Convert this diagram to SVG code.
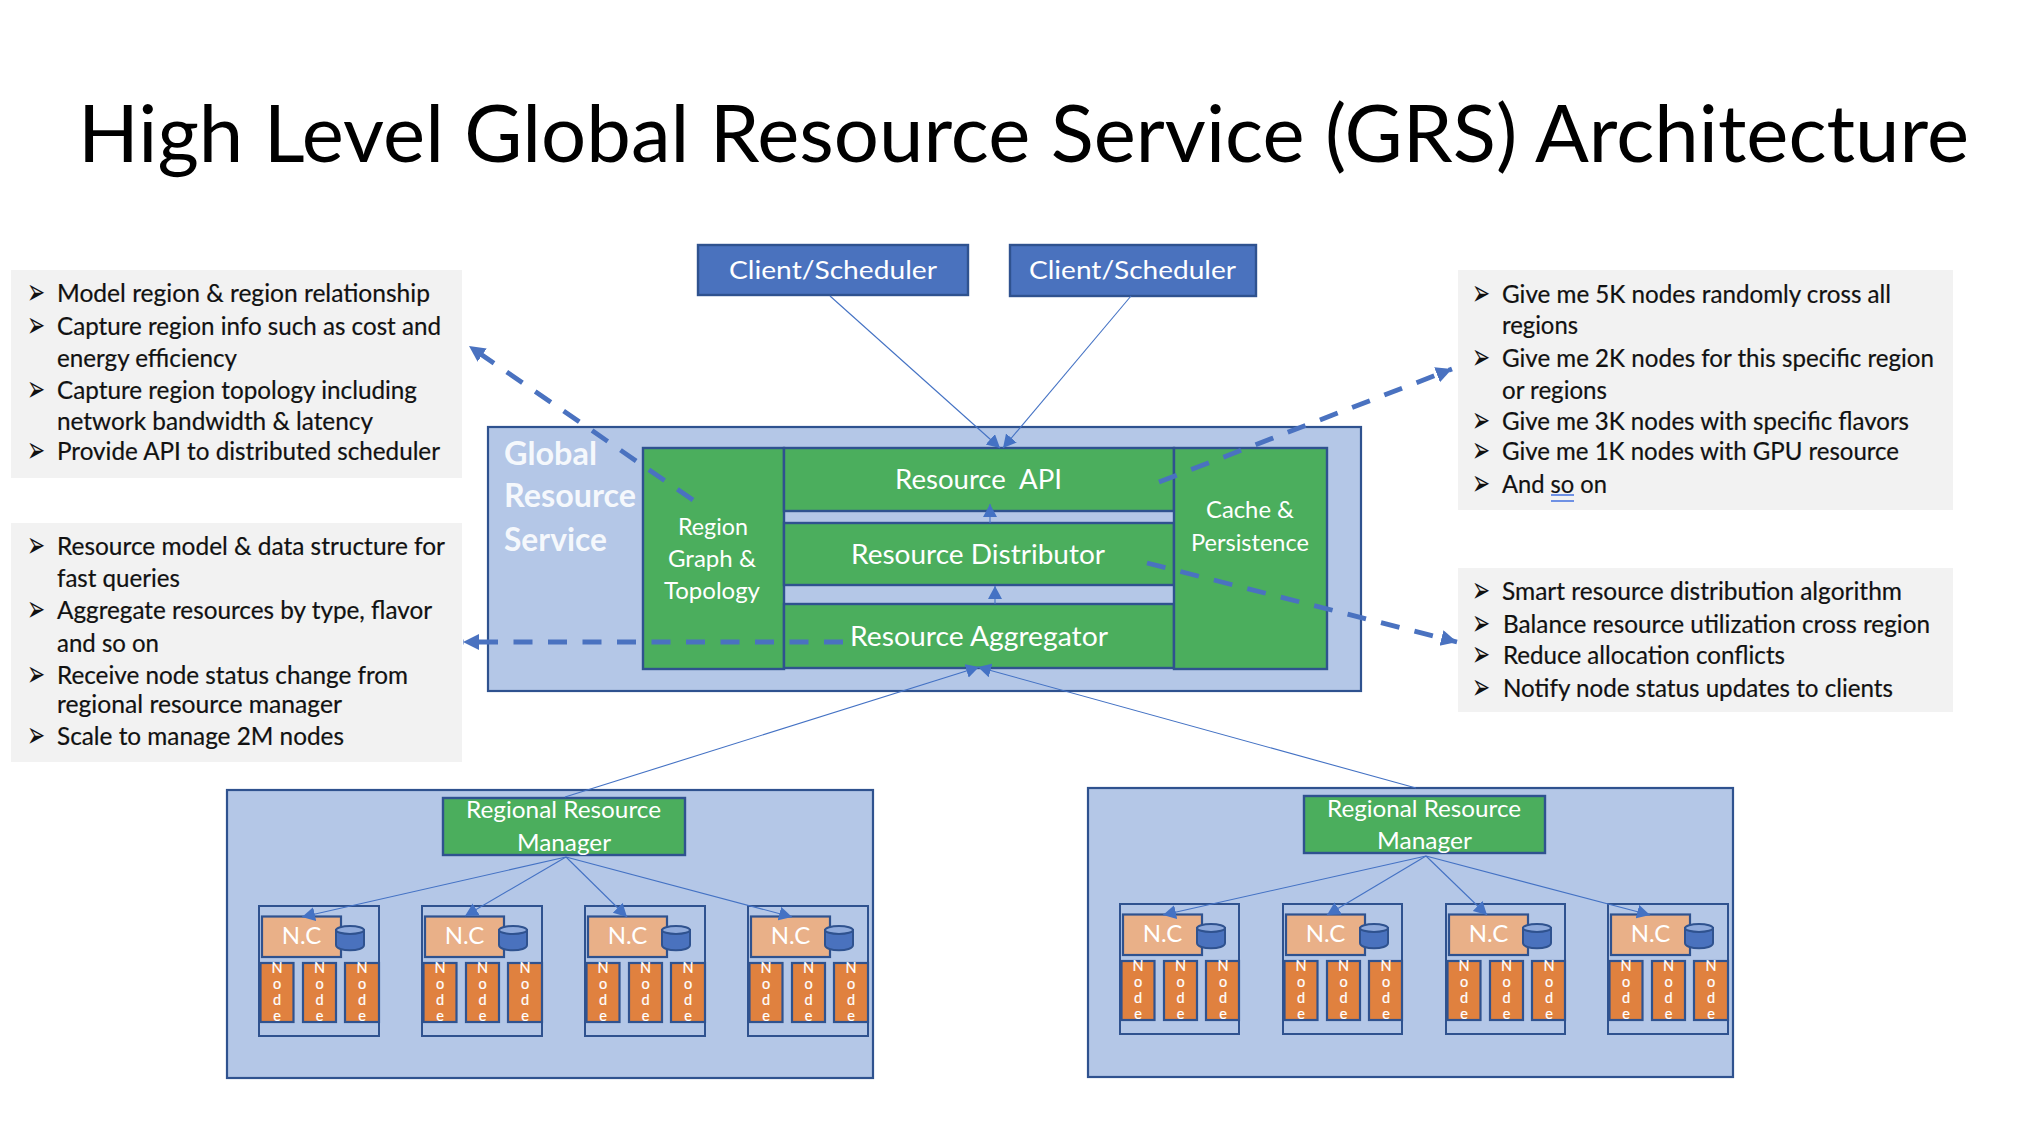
<svg xmlns="http://www.w3.org/2000/svg" width="2040" height="1140" viewBox="0 0 2040 1140">
<style>
text{font-family:Lato,"Liberation Sans",sans-serif;white-space:pre}
.title{font-size:79px;font-weight:400;fill:#000}
.b{font-size:24.5px;fill:#111;stroke:#111;stroke-width:.2;transform:translateY(1px)}
.m{font-family:"DejaVu Sans",sans-serif;font-size:36px;fill:#111;transform-box:fill-box;transform-origin:0 0;transform:scaleX(.6)}
.w{font-size:24px;fill:#fff}
.l{font-size:26px;transform:translateY(1px)}
.c{text-anchor:middle}
.g{font-size:33px;font-weight:700;fill:#fff;fill-opacity:.88}
.n{font-size:14.5px;fill:#fff;text-anchor:middle;stroke:#fff;stroke-width:.2}
.nc{font-size:24px;fill:#fff;text-anchor:middle}
.note{fill:#f2f2f2}
.lb{fill:#b4c7e7;stroke:#2f528f;stroke-width:2.2}
.gr{fill:#4bae5d;stroke:#2f528f;stroke-width:2.4}
.bl{fill:#4a72be;stroke:#2f528f;stroke-width:2.4}
.or{fill:#e0813f;stroke:#2f528f;stroke-width:2.2}
.pe{fill:#e9b088;stroke:#2f528f;stroke-width:2.2}
.fr{fill:none;stroke:#2f528f;stroke-width:2}
.cy{fill:#4a72be;stroke:#2f528f;stroke-width:2}
.cyt{fill:#8faadc;stroke:#2f528f;stroke-width:2}
.thin{fill:none;stroke:#4472c4;stroke-width:1.1;marker-end:url(#tri)}
.dash{fill:none;stroke:#4a72c0;stroke-width:4.8;stroke-dasharray:19 15.5;marker-end:url(#big)}
</style>
<defs>
<marker id="tri" markerUnits="userSpaceOnUse" markerWidth="15" markerHeight="15" refX="13" refY="7" orient="auto"><path d="M0 0L13 7L0 14Z" fill="#4472c4"/></marker>
<marker id="big" markerUnits="userSpaceOnUse" markerWidth="18" markerHeight="18" refX="16" refY="8" orient="auto"><path d="M0 0L16 8L0 16Z" fill="#4a72c0"/></marker>
</defs>
<rect width="2040" height="1140" fill="#fff"/>
<text id="title" class="title" x="78" y="162" textLength="1891" lengthAdjust="spacingAndGlyphs">High Level Global Resource Service (GRS) Architecture</text>

<g id="note-region">
<rect class="note" x="11" y="270" width="451" height="208"/>
<text class="m" x="27" y="304">➢</text><text class="b" x="57" y="301" textLength="373" lengthAdjust="spacingAndGlyphs">Model region &amp; region relationship</text>
<text class="m" x="27" y="337">➢</text><text class="b" x="57" y="334" textLength="384" lengthAdjust="spacingAndGlyphs">Capture region info such as cost and</text>
<text class="b" x="57" y="366" textLength="180" lengthAdjust="spacingAndGlyphs">energy efficiency</text>
<text class="m" x="27" y="401">➢</text><text class="b" x="57" y="398" textLength="360" lengthAdjust="spacingAndGlyphs">Capture region topology including</text>
<text class="b" x="57" y="429" textLength="316" lengthAdjust="spacingAndGlyphs">network bandwidth &amp; latency</text>
<text class="m" x="27" y="462">➢</text><text class="b" x="57" y="459" textLength="383" lengthAdjust="spacingAndGlyphs">Provide API to distributed scheduler</text>
</g>
<g id="note-aggregator">
<rect class="note" x="11" y="523" width="451" height="239"/>
<text class="m" x="27" y="557">➢</text><text class="b" x="57" y="554" textLength="388" lengthAdjust="spacingAndGlyphs">Resource model &amp; data structure for</text>
<text class="b" x="57" y="586" textLength="123" lengthAdjust="spacingAndGlyphs">fast queries</text>
<text class="m" x="27" y="621">➢</text><text class="b" x="57" y="618" textLength="375" lengthAdjust="spacingAndGlyphs">Aggregate resources by type, flavor</text>
<text class="b" x="57" y="651" textLength="102" lengthAdjust="spacingAndGlyphs">and so on</text>
<text class="m" x="27" y="686">➢</text><text class="b" x="57" y="683" textLength="351" lengthAdjust="spacingAndGlyphs">Receive node status change from</text>
<text class="b" x="57" y="712" textLength="285" lengthAdjust="spacingAndGlyphs">regional resource manager</text>
<text class="m" x="27" y="747">➢</text><text class="b" x="57" y="744" textLength="287" lengthAdjust="spacingAndGlyphs">Scale to manage 2M nodes</text>
</g>
<g id="note-api">
<rect class="note" x="1458" y="270" width="495" height="240"/>
<text class="m" x="1472" y="305">➢</text><text class="b" x="1502" y="302" textLength="389" lengthAdjust="spacingAndGlyphs">Give me 5K nodes randomly cross all</text>
<text class="b" x="1502" y="333" textLength="76" lengthAdjust="spacingAndGlyphs">regions</text>
<text class="m" x="1472" y="369">➢</text><text class="b" x="1502" y="366" textLength="432" lengthAdjust="spacingAndGlyphs">Give me 2K nodes for this specific region</text>
<text class="b" x="1502" y="398" textLength="105" lengthAdjust="spacingAndGlyphs">or regions</text>
<text class="m" x="1472" y="432">➢</text><text class="b" x="1502" y="429" textLength="407" lengthAdjust="spacingAndGlyphs">Give me 3K nodes with specific flavors</text>
<text class="m" x="1472" y="462">➢</text><text class="b" x="1502" y="459" textLength="397" lengthAdjust="spacingAndGlyphs">Give me 1K nodes with GPU resource</text>
<text class="m" x="1472" y="495">➢</text><text class="b" x="1502" y="492" textLength="105" lengthAdjust="spacingAndGlyphs">And so on</text>
<path d="M1551 495H1574M1551 501H1574" stroke="#4472e0" stroke-width="1.6" fill="none"/>
</g>
<g id="note-distributor">
<rect class="note" x="1458" y="568" width="495" height="144"/>
<text class="m" x="1472" y="602">➢</text><text class="b" x="1502" y="599" textLength="400" lengthAdjust="spacingAndGlyphs">Smart resource distribution algorithm</text>
<text class="m" x="1472" y="635">➢</text><text class="b" x="1503" y="632" textLength="427" lengthAdjust="spacingAndGlyphs">Balance resource utilization cross region</text>
<text class="m" x="1472" y="666">➢</text><text class="b" x="1503" y="663" textLength="282" lengthAdjust="spacingAndGlyphs">Reduce allocation conflicts</text>
<text class="m" x="1472" y="699">➢</text><text class="b" x="1503" y="696" textLength="390" lengthAdjust="spacingAndGlyphs">Notify node status updates to clients</text>
</g>

<g id="client-1"><rect class="bl" x="698" y="245" width="270" height="50"/><text class="w" style="font-size:25.5px" x="729" y="279" textLength="208" lengthAdjust="spacingAndGlyphs">Client/Scheduler</text></g>
<g id="client-2"><rect class="bl" x="1010" y="245" width="246" height="51"/><text class="w" style="font-size:25.5px" x="1029" y="279" textLength="207" lengthAdjust="spacingAndGlyphs">Client/Scheduler</text></g>

<g id="grs">
<rect class="lb" x="488" y="427" width="873" height="264"/>
<text class="g" x="504" y="464.5" textLength="93" lengthAdjust="spacingAndGlyphs">Global</text>
<text class="g" x="504" y="507" textLength="132" lengthAdjust="spacingAndGlyphs">Resource</text>
<text class="g" x="504" y="550.5" textLength="103" lengthAdjust="spacingAndGlyphs">Service</text>
</g>
<g id="region-graph">
<rect class="gr" x="643" y="448" width="141" height="221"/>
<text class="w c" x="713" y="535" textLength="70" lengthAdjust="spacingAndGlyphs">Region</text>
<text class="w c" x="712" y="567" textLength="88" lengthAdjust="spacingAndGlyphs">Graph &amp;</text>
<text class="w c" x="712" y="599" textLength="96" lengthAdjust="spacingAndGlyphs">Topology</text>
</g>
<g id="resource-api"><rect class="gr" x="784" y="448" width="390" height="63"/><text class="w l" x="895" y="488" textLength="167" lengthAdjust="spacingAndGlyphs">Resource  API</text></g>
<g id="resource-distributor"><rect class="gr" x="784" y="523" width="390" height="62"/><text class="w l" x="851" y="563" textLength="254" lengthAdjust="spacingAndGlyphs">Resource Distributor</text></g>
<g id="resource-aggregator"><rect class="gr" x="784" y="604" width="390" height="64"/><text class="w l" x="850" y="645" textLength="258" lengthAdjust="spacingAndGlyphs">Resource Aggregator</text></g>
<g id="cache">
<rect class="gr" x="1174" y="448" width="153" height="221"/>
<text class="w" x="1206" y="518" textLength="88" lengthAdjust="spacingAndGlyphs">Cache &amp;</text>
<text class="w" x="1191" y="551" textLength="118" lengthAdjust="spacingAndGlyphs">Persistence</text>
</g>

<g id="region-1">
<rect class="lb" x="227" y="790" width="646" height="288"/>
<rect class="gr" x="443" y="798" width="242" height="57"/>
<text class="w" x="466" y="818" textLength="195" lengthAdjust="spacingAndGlyphs">Regional Resource</text>
<text class="w" x="517" y="851" textLength="94" lengthAdjust="spacingAndGlyphs">Manager</text>
</g>
<g id="region-2">
<rect class="lb" x="1088" y="788" width="645" height="289"/>
<rect class="gr" x="1304" y="796" width="241" height="57"/>
<text class="w" x="1327" y="817" textLength="194" lengthAdjust="spacingAndGlyphs">Regional Resource</text>
<text class="w" x="1377" y="849" textLength="95" lengthAdjust="spacingAndGlyphs">Manager</text>
</g>

<g id="nc-1-1" transform="translate(259,906)"><rect class="fr" width="120" height="130"/><rect class="pe" x="3" y="10.5" width="79" height="40.5"/><text class="nc" x="42.5" y="38">N.C</text><path class="cy" d="M77 24V39C77 46 105 46 105 39V24Z"/><ellipse class="cyt" cx="91" cy="24" rx="14" ry="4"/><rect class="or" x="1.5" y="57" width="33" height="59"/><text class="n"><tspan x="18" y="67">N</tspan><tspan x="18" y="83">o</tspan><tspan x="18" y="99">d</tspan><tspan x="18" y="115">e</tspan></text><rect class="or" x="44" y="57" width="33" height="59"/><text class="n"><tspan x="60.5" y="67">N</tspan><tspan x="60.5" y="83">o</tspan><tspan x="60.5" y="99">d</tspan><tspan x="60.5" y="115">e</tspan></text><rect class="or" x="86" y="57" width="34" height="59"/><text class="n"><tspan x="103" y="67">N</tspan><tspan x="103" y="83">o</tspan><tspan x="103" y="99">d</tspan><tspan x="103" y="115">e</tspan></text></g>
<g id="nc-1-2" transform="translate(422,906)"><rect class="fr" width="120" height="130"/><rect class="pe" x="3" y="10.5" width="79" height="40.5"/><text class="nc" x="42.5" y="38">N.C</text><path class="cy" d="M77 24V39C77 46 105 46 105 39V24Z"/><ellipse class="cyt" cx="91" cy="24" rx="14" ry="4"/><rect class="or" x="1.5" y="57" width="33" height="59"/><text class="n"><tspan x="18" y="67">N</tspan><tspan x="18" y="83">o</tspan><tspan x="18" y="99">d</tspan><tspan x="18" y="115">e</tspan></text><rect class="or" x="44" y="57" width="33" height="59"/><text class="n"><tspan x="60.5" y="67">N</tspan><tspan x="60.5" y="83">o</tspan><tspan x="60.5" y="99">d</tspan><tspan x="60.5" y="115">e</tspan></text><rect class="or" x="86" y="57" width="34" height="59"/><text class="n"><tspan x="103" y="67">N</tspan><tspan x="103" y="83">o</tspan><tspan x="103" y="99">d</tspan><tspan x="103" y="115">e</tspan></text></g>
<g id="nc-1-3" transform="translate(585,906)"><rect class="fr" width="120" height="130"/><rect class="pe" x="3" y="10.5" width="79" height="40.5"/><text class="nc" x="42.5" y="38">N.C</text><path class="cy" d="M77 24V39C77 46 105 46 105 39V24Z"/><ellipse class="cyt" cx="91" cy="24" rx="14" ry="4"/><rect class="or" x="1.5" y="57" width="33" height="59"/><text class="n"><tspan x="18" y="67">N</tspan><tspan x="18" y="83">o</tspan><tspan x="18" y="99">d</tspan><tspan x="18" y="115">e</tspan></text><rect class="or" x="44" y="57" width="33" height="59"/><text class="n"><tspan x="60.5" y="67">N</tspan><tspan x="60.5" y="83">o</tspan><tspan x="60.5" y="99">d</tspan><tspan x="60.5" y="115">e</tspan></text><rect class="or" x="86" y="57" width="34" height="59"/><text class="n"><tspan x="103" y="67">N</tspan><tspan x="103" y="83">o</tspan><tspan x="103" y="99">d</tspan><tspan x="103" y="115">e</tspan></text></g>
<g id="nc-1-4" transform="translate(748,906)"><rect class="fr" width="120" height="130"/><rect class="pe" x="3" y="10.5" width="79" height="40.5"/><text class="nc" x="42.5" y="38">N.C</text><path class="cy" d="M77 24V39C77 46 105 46 105 39V24Z"/><ellipse class="cyt" cx="91" cy="24" rx="14" ry="4"/><rect class="or" x="1.5" y="57" width="33" height="59"/><text class="n"><tspan x="18" y="67">N</tspan><tspan x="18" y="83">o</tspan><tspan x="18" y="99">d</tspan><tspan x="18" y="115">e</tspan></text><rect class="or" x="44" y="57" width="33" height="59"/><text class="n"><tspan x="60.5" y="67">N</tspan><tspan x="60.5" y="83">o</tspan><tspan x="60.5" y="99">d</tspan><tspan x="60.5" y="115">e</tspan></text><rect class="or" x="86" y="57" width="34" height="59"/><text class="n"><tspan x="103" y="67">N</tspan><tspan x="103" y="83">o</tspan><tspan x="103" y="99">d</tspan><tspan x="103" y="115">e</tspan></text></g>
<g id="nc-2-1" transform="translate(1120,904)"><rect class="fr" width="119" height="130"/><rect class="pe" x="3" y="10.5" width="79" height="40.5"/><text class="nc" x="42.5" y="38">N.C</text><path class="cy" d="M77 24V39C77 46 105 46 105 39V24Z"/><ellipse class="cyt" cx="91" cy="24" rx="14" ry="4"/><rect class="or" x="1.5" y="57" width="33" height="59"/><text class="n"><tspan x="18" y="67">N</tspan><tspan x="18" y="83">o</tspan><tspan x="18" y="99">d</tspan><tspan x="18" y="115">e</tspan></text><rect class="or" x="44" y="57" width="33" height="59"/><text class="n"><tspan x="60.5" y="67">N</tspan><tspan x="60.5" y="83">o</tspan><tspan x="60.5" y="99">d</tspan><tspan x="60.5" y="115">e</tspan></text><rect class="or" x="86" y="57" width="33" height="59"/><text class="n"><tspan x="103" y="67">N</tspan><tspan x="103" y="83">o</tspan><tspan x="103" y="99">d</tspan><tspan x="103" y="115">e</tspan></text></g>
<g id="nc-2-2" transform="translate(1283,904)"><rect class="fr" width="119" height="130"/><rect class="pe" x="3" y="10.5" width="79" height="40.5"/><text class="nc" x="42.5" y="38">N.C</text><path class="cy" d="M77 24V39C77 46 105 46 105 39V24Z"/><ellipse class="cyt" cx="91" cy="24" rx="14" ry="4"/><rect class="or" x="1.5" y="57" width="33" height="59"/><text class="n"><tspan x="18" y="67">N</tspan><tspan x="18" y="83">o</tspan><tspan x="18" y="99">d</tspan><tspan x="18" y="115">e</tspan></text><rect class="or" x="44" y="57" width="33" height="59"/><text class="n"><tspan x="60.5" y="67">N</tspan><tspan x="60.5" y="83">o</tspan><tspan x="60.5" y="99">d</tspan><tspan x="60.5" y="115">e</tspan></text><rect class="or" x="86" y="57" width="33" height="59"/><text class="n"><tspan x="103" y="67">N</tspan><tspan x="103" y="83">o</tspan><tspan x="103" y="99">d</tspan><tspan x="103" y="115">e</tspan></text></g>
<g id="nc-2-3" transform="translate(1446,904)"><rect class="fr" width="119" height="130"/><rect class="pe" x="3" y="10.5" width="79" height="40.5"/><text class="nc" x="42.5" y="38">N.C</text><path class="cy" d="M77 24V39C77 46 105 46 105 39V24Z"/><ellipse class="cyt" cx="91" cy="24" rx="14" ry="4"/><rect class="or" x="1.5" y="57" width="33" height="59"/><text class="n"><tspan x="18" y="67">N</tspan><tspan x="18" y="83">o</tspan><tspan x="18" y="99">d</tspan><tspan x="18" y="115">e</tspan></text><rect class="or" x="44" y="57" width="33" height="59"/><text class="n"><tspan x="60.5" y="67">N</tspan><tspan x="60.5" y="83">o</tspan><tspan x="60.5" y="99">d</tspan><tspan x="60.5" y="115">e</tspan></text><rect class="or" x="86" y="57" width="33" height="59"/><text class="n"><tspan x="103" y="67">N</tspan><tspan x="103" y="83">o</tspan><tspan x="103" y="99">d</tspan><tspan x="103" y="115">e</tspan></text></g>
<g id="nc-2-4" transform="translate(1608,904)"><rect class="fr" width="120" height="130"/><rect class="pe" x="3" y="10.5" width="79" height="40.5"/><text class="nc" x="42.5" y="38">N.C</text><path class="cy" d="M77 24V39C77 46 105 46 105 39V24Z"/><ellipse class="cyt" cx="91" cy="24" rx="14" ry="4"/><rect class="or" x="1.5" y="57" width="33" height="59"/><text class="n"><tspan x="18" y="67">N</tspan><tspan x="18" y="83">o</tspan><tspan x="18" y="99">d</tspan><tspan x="18" y="115">e</tspan></text><rect class="or" x="44" y="57" width="33" height="59"/><text class="n"><tspan x="60.5" y="67">N</tspan><tspan x="60.5" y="83">o</tspan><tspan x="60.5" y="99">d</tspan><tspan x="60.5" y="115">e</tspan></text><rect class="or" x="86" y="57" width="34" height="59"/><text class="n"><tspan x="103" y="67">N</tspan><tspan x="103" y="83">o</tspan><tspan x="103" y="99">d</tspan><tspan x="103" y="115">e</tspan></text></g>

<g id="connectors">
<path class="thin" d="M830 296L1000 448"/>
<path class="thin" d="M1131 296L1003 448"/>
<path class="thin" d="M990 523V504"/>
<path class="thin" d="M995 604V586"/>
<path class="thin" d="M565 797L979 667"/>
<path class="thin" d="M1416 788L978 667"/>
<path class="thin" d="M566 857L302 917"/>
<path class="thin" d="M566 857L465 916"/>
<path class="thin" d="M566 857L627 917"/>
<path class="thin" d="M566 857L792 917"/>
<path class="thin" d="M1426 856L1163 915"/>
<path class="thin" d="M1426 856L1327 915"/>
<path class="thin" d="M1426 856L1487 915"/>
<path class="thin" d="M1426 856L1650 915"/>
<path class="dash" d="M693 500L469 346"/>
<path class="dash" d="M843 642H463"/>
<path class="dash" d="M1159 482L1452 369"/>
<path class="dash" d="M1147 563L1457 642"/>
</g>
</svg>
